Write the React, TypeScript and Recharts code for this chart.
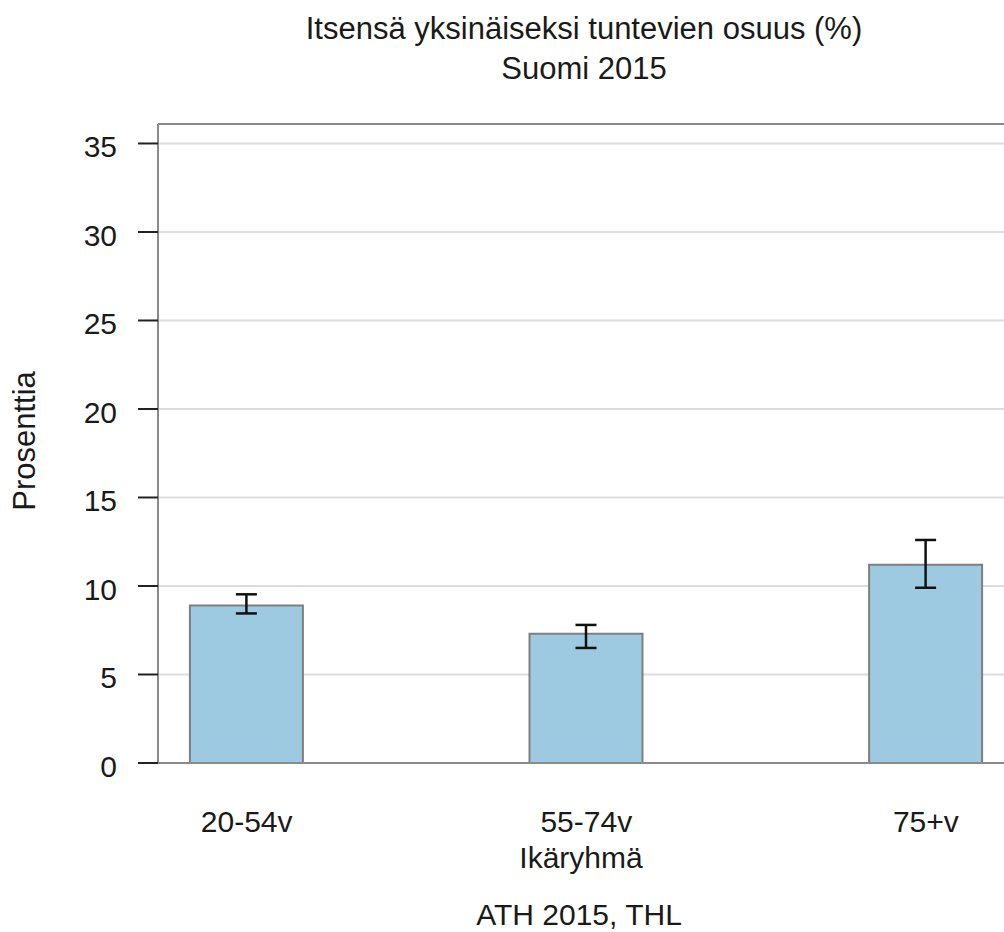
import { Bar, BarChart, CartesianGrid, ErrorBar, Label, ReferenceLine, XAxis, YAxis } from "recharts";

// Share of people who feel lonely, by age group (ATH 2015)
const categories = ["20-54v", "55-74v", "75+v"];
const shares = [8.9, 7.3, 11.2];
const lower = [8.45, 6.5, 9.9];
const upper = [9.53, 7.8, 12.6];
const yTicks = [0, 5, 10, 15, 20, 25, 30, 35];
const xTicks = [1, 2, 3];

const data = categories.map((name, i) => ({
  pos: i + 1,
  name,
  share: shares[i],
  err: [shares[i] - lower[i], upper[i] - shares[i]],
}));

const FONT = '"Liberation Sans", Arial, sans-serif';
const INK = "#1a1a1a";
const BOX = "#8a8a8a";

function XTick(props: any) {
  const { x, y, payload } = props;
  return (
    <text x={x} y={y + 69} textAnchor="middle" fontSize={30} fontFamily={FONT} fill={INK}>
      {categories[payload.value - 1]}
    </text>
  );
}

function YTick(props: any) {
  const { x, y, payload } = props;
  return (
    <text x={x} y={y + 14} textAnchor="end" fontSize={30} fontFamily={FONT} fill={INK}>
      {payload.value}
    </text>
  );
}

export default function App() {
  return (
    <div style={{ position: "absolute", left: 0, top: 0, width: 1004, height: 932, overflow: "hidden", background: "#fff" }}>
      <BarChart width={1020} height={932} data={data} margin={{ top: 124, right: 7, left: 0, bottom: 0 }}>
        <CartesianGrid vertical={false} stroke="#dcdcdc" strokeWidth={2} />
        <XAxis
          dataKey="pos"
          type="number"
          domain={[0.7388, 3.2565]}
          allowDataOverflow
          ticks={xTicks}
          height={169}
          tickSize={0}
          tickMargin={0}
          tickLine={false}
          axisLine={{ stroke: BOX, strokeWidth: 2 }}
          tick={<XTick />}
        >
          <Label
            content={() => (
              <text x={581} y={868} textAnchor="middle" fontSize={30} fontFamily={FONT} fill={INK}>
                Ikäryhmä
              </text>
            )}
          />
        </XAxis>
        <YAxis
          type="number"
          domain={[0, 36.1]}
          allowDataOverflow
          ticks={yTicks}
          width={158}
          tickSize={20}
          tickMargin={21}
          tickLine={{ stroke: "#222", strokeWidth: 2 }}
          axisLine={{ stroke: BOX, strokeWidth: 2 }}
          tick={<YTick />}
        >
          <Label
            content={() => (
              <text
                x={35}
                y={441}
                transform="rotate(-90 35 441)"
                textAnchor="middle"
                fontSize={31}
                fontFamily={FONT}
                fill={INK}
              >
                Prosenttia
              </text>
            )}
          />
        </YAxis>
        <ReferenceLine y={36.1} stroke={BOX} strokeWidth={2} />
        <Bar dataKey="share" barSize={113} fill="#9ecae1" stroke="#7f7f7f" strokeWidth={2} isAnimationActive={false}>
          <ErrorBar dataKey="err" direction="y" width={10.5} stroke="#111" strokeWidth={2.5} isAnimationActive={false} />
        </Bar>
      </BarChart>
      <svg width={1004} height={932} style={{ position: "absolute", left: 0, top: 0, pointerEvents: "none" }}>
        <text x={584} y={39} textAnchor="middle" fontSize={31} fontFamily={FONT} fill={INK}>
          Itsensä yksinäiseksi tuntevien osuus (%)
        </text>
        <text x={584} y={79} textAnchor="middle" fontSize={31} fontFamily={FONT} fill={INK}>
          Suomi 2015
        </text>
        <text x={579} y={925} textAnchor="middle" fontSize={30} fontFamily={FONT} fill={INK}>
          ATH 2015, THL
        </text>
      </svg>
    </div>
  );
}
